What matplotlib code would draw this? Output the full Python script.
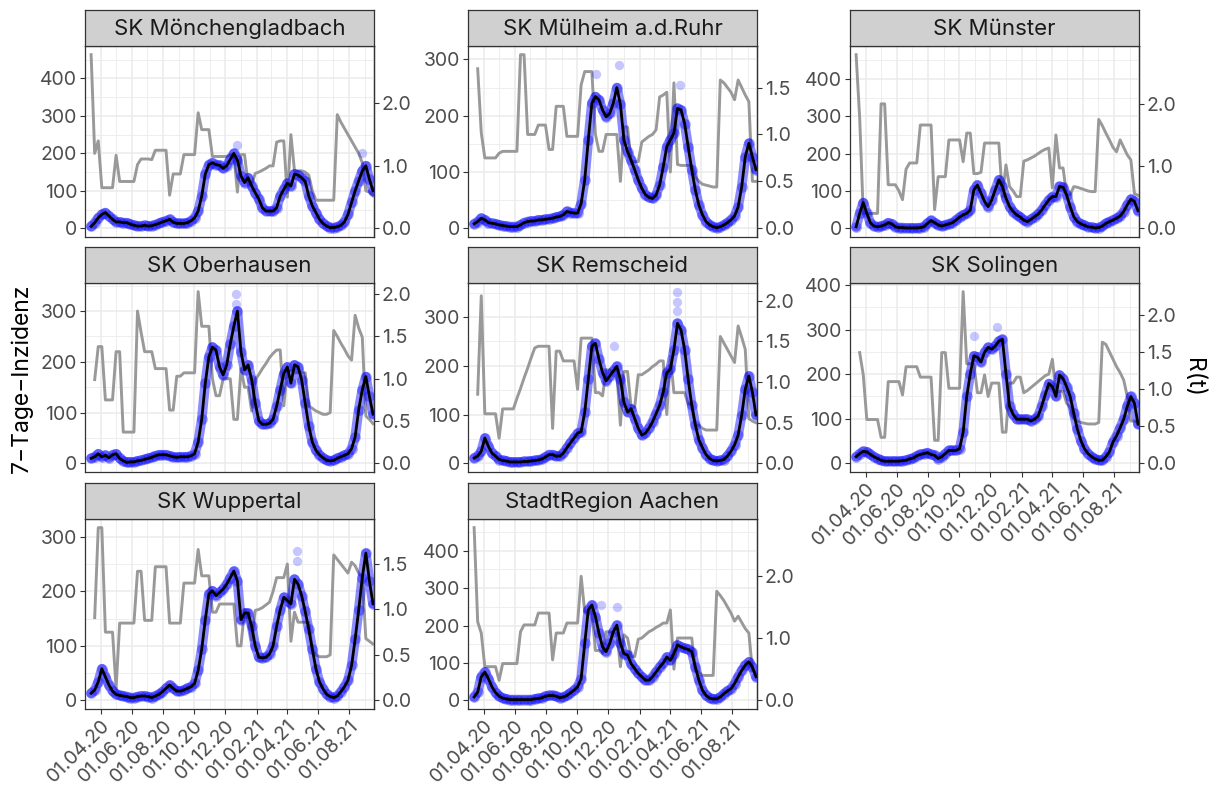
import numpy as np
import pandas as pd
import matplotlib
matplotlib.use("Agg")
import matplotlib.pyplot as plt
import matplotlib.dates as mdates
from matplotlib.ticker import MultipleLocator, FormatStrFormatter

plt.rcParams['font.family'] = ['Inter', 'DejaVu Sans']

# weekly grid of report dates
dates = pd.date_range('2020-03-13', periods=80, freq='7D')
nan = np.nan

# 7-Tage-Inzidenz (weekly readings) and R(t) per region
inc_mg = [5, 15, 28, 37, 42, 33, 24, 17, 17, 15,
          15, 11, 8, 6, 6, 8, 6, 7, 10, 13,
          17, 20, 24, 16, 13, 13, 13, 15, 20, 28,
          46, 86, 145, 170, 175, 170, 168, 160, 167, 184,
          200, 182, 140, 122, 135, 113, 95, 78, 55, 46,
          46, 46, 55, 86, 104, 120, 113, 145, 142, 135,
          125, 86, 60, 42, 24, 13, 6, 2, 2, 4,
          8, 17, 37, 69, 100, 127, 153, 167, 131, 100]
r_mg = [2.78, 1.2, 1.4, 0.65, 0.65, 0.65, 0.65, 1.17, 0.75, 0.75,
        0.75, 0.75, 0.75, 1.02, 1.11, 1.11, 1.11, 1.1, 1.25, 1.25,
        1.25, 1.25, 0.53, 0.87, 0.87, 0.87, 1.18, 1.18, 1.18, 1.18,
        1.85, 1.58, 1.58, 1.58, 1.15, 1.15, 1.15, 1.15, 1.15, 1.18,
        1.18, 0.58, 1.18, 1.18, 0.7, 0.7, 0.88, 0.9, 0.93, 0.96,
        1.0, 1.0, 1.38, 1.4, 1.4, 0.5, 1.5, 0.92, 0.92, 0.92,
        0.9, 0.85, 0.6, 0.45, 0.45, 0.45, 0.45, 0.45, 0.45, 1.82,
        1.7, 1.6, 1.5, 1.4, 1.3, 1.2, 1.05, 0.6, 0.58, 0.52]

inc_mh = [8, 12, 18, 15, 10, 9, 8, 6, 5, 4,
          3, 3, 3, 6, 10, 12, 13, 13, 15, 15,
          16, 17, 18, 20, 21, 24, 30, 28, 27, 27,
          44, 86, 157, 222, 234, 228, 210, 198, 204, 222,
          250, 220, 157, 136, 121, 104, 86, 71, 60, 55,
          53, 59, 77, 109, 145, 157, 169, 213, 210, 186,
          145, 104, 68, 41, 24, 12, 6, 3, 1, 3,
          6, 10, 15, 22, 38, 74, 127, 151, 127, 104]
r_mh = [nan, 1.7, 1.02, 0.75, 0.75, 0.75, 0.75, 0.8, 0.82, 0.82,
        0.82, 0.82, 0.82, 1.85, 1.85, 1.0, 1.0, 1.0, 1.1, 1.1,
        1.1, 0.84, 0.84, 1.3, 1.3, 1.3, 0.98, 0.98, 0.98, 0.98,
        1.53, 1.67, 1.67, 1.67, 1.0, 0.82, 0.82, 1.0, 1.0, 1.0,
        1.0, 0.5, 1.08, 1.08, 0.71, 0.71, 0.71, 0.92, 0.95, 0.98,
        1.0, 1.05, 1.4, 1.42, 1.45, 0.6, 1.55, 0.68, 0.67, 0.67,
        0.67, 0.67, 0.55, 0.5, 0.47, 0.46, 0.45, 0.44, 0.44, 1.58,
        1.55, 1.5, 1.45, 1.37, 1.58, 1.5, 1.42, 1.35, 0.5, 0.5]

inc_ms = [4, 40, 69, 40, 15, 6, 4, 6, 9, 15,
          12, 4, 2, 2, 1, 1, 1, 1, 2, 4,
          13, 21, 15, 9, 6, 9, 12, 15, 22, 30,
          36, 40, 49, 103, 116, 94, 72, 58, 76, 103,
          130, 112, 81, 58, 45, 36, 30, 22, 18, 24,
          31, 38, 49, 63, 76, 85, 85, 112, 110, 89,
          58, 31, 18, 12, 8, 4, 3, 1, 2, 6,
          13, 18, 22, 27, 33, 45, 63, 78, 72, 47]
r_ms = [2.79, 1.77, 0.24, 0.24, 0.24, 0.24, 0.24, 2.0, 2.0, 0.7,
        0.7, 0.7, 0.6, 0.46, 0.95, 1.05, 1.05, 1.05, 1.66, 1.66,
        1.66, 1.66, 0.3, 0.83, 0.83, 0.83, 1.42, 1.42, 1.42, 1.42,
        1.07, 1.53, 1.53, 0.88, 0.88, 0.9, 1.37, 1.37, 1.37, 1.37,
        1.37, 0.51, 1.02, 0.67, 0.6, 0.51, 0.51, 1.08, 1.1, 1.13,
        1.16, 1.2, 1.24, 1.27, 1.29, 0.65, 1.5, 0.97, 0.97, 0.54,
        0.54, 0.67, 0.66, 0.64, 0.62, 0.6, 0.59, 0.59, 1.75, 1.65,
        1.53, 1.42, 1.3, 1.23, 1.42, 1.3, 1.18, 1.1, 0.56, 0.53]

inc_ob = [10, 13, 19, 13, 16, 11, 17, 19, 10, 5,
          2, 3, 3, 5, 6, 8, 10, 12, 15, 17,
          17, 17, 15, 13, 12, 13, 13, 13, 15, 19,
          42, 87, 158, 210, 229, 223, 190, 174, 194, 235,
          270, 300, 220, 184, 194, 165, 119, 84, 77, 77,
          79, 87, 113, 145, 177, 190, 158, 194, 190, 165,
          119, 74, 42, 26, 17, 11, 6, 5, 6, 10,
          13, 16, 19, 29, 52, 106, 145, 171, 132, 97]
r_ob = [nan, 0.99, 1.38, 1.38, 0.75, 0.75, 0.75, 1.32, 1.32, 0.37,
        0.37, 0.37, 0.37, 1.8, 1.55, 1.32, 1.32, 1.32, 1.12, 1.12,
        1.12, 1.12, 0.63, 0.63, 1.03, 1.03, 1.07, 1.07, 1.07, 1.07,
        2.03, 1.62, 1.62, 1.62, 1.0, 0.8, 0.8, 1.0, 1.0, 1.0,
        0.52, 0.52, 1.12, 0.9, 0.9, 0.62, 0.99, 1.05, 1.12, 1.18,
        1.25, 1.3, 1.34, 1.34, 0.68, 1.1, 1.1, 1.07, 1.07, 1.07,
        1.07, 0.68, 0.65, 0.62, 0.6, 0.58, 0.58, 0.6, 1.57, 1.5,
        1.42, 1.35, 1.27, 1.22, 1.75, 1.6, 1.49, 0.56, 0.52, 0.47]

inc_rs = [11, 15, 25, 52, 35, 21, 15, 8, 6, 5,
          3, 3, 3, 3, 4, 4, 5, 6, 7, 9,
          13, 18, 18, 15, 15, 21, 32, 42, 52, 62,
          65, 105, 172, 240, 246, 213, 186, 169, 179, 189,
          199, 172, 125, 105, 112, 92, 72, 58, 62, 72,
          85, 102, 119, 146, 186, 193, 233, 287, 273, 233,
          172, 119, 79, 48, 32, 18, 10, 6, 5, 6,
          8, 15, 25, 38, 58, 99, 152, 179, 146, 99]
r_rs = [nan, 0.85, 2.06, 0.61, 0.61, 0.61, 0.61, 0.31, 0.67, 0.67,
        0.67, 0.67, 0.8, 0.92, 1.05, 1.17, 1.3, 1.42, 1.44, 1.44,
        1.44, 1.44, 0.43, 1.38, 1.38, 1.26, 1.26, 1.26, 1.26, 0.91,
        1.54, 1.54, 1.54, 1.54, 0.87, 0.87, 0.83, 1.15, 1.15, 1.13,
        1.13, 0.47, 1.13, 1.13, 0.69, 0.69, 1.09, 1.09, 1.12, 1.15,
        1.19, 1.22, 1.26, 1.26, 0.6, 1.32, 0.87, 0.87, 0.87, 0.87,
        0.73, 0.73, 0.47, 0.47, 0.43, 0.41, 0.41, 0.41, 0.41, 1.56,
        1.48, 1.4, 1.32, 1.24, 1.69, 1.55, 1.4, 0.55, 0.52, 0.5]

inc_so = [15, 22, 27, 26, 20, 15, 11, 7, 5, 5,
          5, 5, 5, 6, 7, 10, 12, 17, 20, 22,
          24, 20, 18, 11, 15, 22, 29, 29, 29, 33,
          70, 150, 201, 241, 238, 227, 249, 260, 256, 263,
          274, 278, 201, 128, 110, 99, 99, 99, 99, 95,
          99, 106, 128, 154, 179, 172, 150, 198, 190, 172,
          150, 113, 77, 51, 33, 22, 15, 10, 7, 7,
          15, 26, 48, 62, 80, 99, 128, 150, 135, 88]
r_so = [nan, 1.49, 1.19, 0.59, 0.59, 0.59, 0.59, 0.35, 0.35, 1.1,
        1.1, 1.1, 1.1, 0.92, 1.3, 1.3, 1.3, 1.3, 1.16, 1.16,
        1.16, 1.16, 0.31, 0.31, 1.49, 1.49, 1.01, 1.01, 1.01, 1.01,
        2.31, 1.34, 1.34, 1.34, 0.95, 0.95, 1.19, 0.9, 1.08, 1.08,
        1.08, 0.42, 0.42, 1.08, 1.08, 1.16, 1.16, 0.95, 0.98, 1.02,
        1.06, 1.1, 1.14, 1.18, 1.2, 1.4, 0.97, 0.97, 0.97, 0.81,
        0.75, 0.6, 0.57, 0.55, 0.54, 0.53, 0.53, 0.53, 0.55, 1.63,
        1.6, 1.5, 1.4, 1.3, 1.22, 1.12, 0.9, 0.57, 0.57, 0.55]

inc_wu = [13, 19, 34, 58, 43, 28, 17, 11, 9, 8,
          7, 5, 5, 7, 8, 8, 7, 5, 8, 11,
          16, 22, 28, 22, 17, 17, 19, 22, 25, 31,
          55, 94, 148, 195, 201, 192, 198, 204, 213, 225,
          237, 219, 148, 160, 160, 136, 100, 79, 78, 79,
          85, 100, 136, 166, 189, 183, 177, 222, 213, 192,
          163, 130, 94, 58, 34, 21, 11, 7, 5, 8,
          16, 25, 37, 64, 112, 166, 225, 270, 219, 177]
r_wu = [nan, 0.91, 1.9, 1.9, 0.75, 0.75, 0.75, 0.13, 0.85, 0.85,
        0.85, 0.85, 0.85, 1.42, 1.42, 0.88, 0.88, 0.88, 1.47, 1.47,
        1.47, 1.47, 0.85, 0.85, 0.85, 0.85, 1.29, 1.29, 1.29, 1.29,
        1.66, 1.37, 1.37, 1.37, 0.97, 0.97, 1.06, 1.06, 1.06, 1.06,
        1.06, 0.6, 0.6, 1.0, 0.88, 0.66, 0.99, 1.0, 1.02, 1.05,
        1.08, 1.2, 1.35, 1.35, 1.35, 1.5, 0.65, 0.97, 0.86, 0.86,
        0.86, 0.86, 0.55, 0.5, 0.48, 0.48, 0.48, 0.5, 1.6, 1.55,
        1.5, 1.45, 1.4, 1.52, 1.48, 1.4, 1.35, 0.68, 0.65, 0.62]

inc_ac = [9, 22, 63, 76, 58, 36, 21, 11, 6, 4,
          2, 2, 2, 2, 2, 2, 2, 4, 5, 7,
          11, 13, 13, 11, 7, 9, 13, 20, 27, 36,
          58, 152, 242, 255, 224, 179, 143, 130, 152, 183,
          201, 152, 125, 121, 98, 85, 72, 63, 54, 54,
          63, 76, 89, 100, 116, 107, 125, 148, 143, 139,
          136, 130, 89, 54, 27, 13, 6, 4, 4, 9,
          18, 25, 31, 45, 63, 80, 94, 103, 89, 63]
r_ac = [2.77, 1.26, 1.08, 0.54, 0.54, 0.54, 0.54, 0.32, 0.59, 0.59,
        0.59, 0.59, 0.59, 1.1, 1.21, 1.21, 1.21, 1.21, 1.4, 1.4,
        1.4, 1.4, 0.65, 1.08, 1.08, 1.08, 1.24, 1.24, 1.24, 1.24,
        1.99, 1.42, 1.42, 1.42, 0.8, 0.8, 0.75, 1.1, 1.1, 1.08,
        1.08, 0.54, 1.05, 1.0, 0.7, 0.7, 0.98, 1.0, 1.05, 1.1,
        1.13, 1.17, 1.2, 1.24, 1.24, 1.45, 0.5, 1.0, 1.0, 1.0,
        1.0, 1.0, 0.48, 0.45, 0.4, 0.4, 0.4, 0.4, 1.75, 1.68,
        1.6, 1.5, 1.4, 1.27, 1.35, 1.25, 1.15, 1.08, 0.48, 0.45]

# single daily values sticking out above the bulk
ext_mg_d = ['2020-12-24', '2021-08-26']
ext_mg_v = [222, 202]
ext_mh_d = ['2020-12-23', '2020-11-08', '2021-04-21']
ext_mh_v = [290, 274, 254]
ext_ms_d = []
ext_ms_v = []
ext_ob_d = ['2020-12-23', '2020-12-23']
ext_ob_v = [334, 313]
ext_rs_d = ['2021-04-15', '2021-04-15', '2021-04-16', '2020-12-12']
ext_rs_v = [352, 330, 313, 241]
ext_so_d = ['2020-12-14', '2020-10-31']
ext_so_v = [305, 285]
ext_wu_d = ['2021-04-21', '2021-04-20']
ext_wu_v = [273, 255]
ext_ac_d = ['2020-12-19', '2020-11-16']
ext_ac_v = [250, 255]

names = ['SK Mönchengladbach', 'SK Mülheim a.d.Ruhr', 'SK Münster',
         'SK Oberhausen', 'SK Remscheid', 'SK Solingen',
         'SK Wuppertal', 'StadtRegion Aachen']
incs = [inc_mg, inc_mh, inc_ms, inc_ob, inc_rs, inc_so, inc_wu, inc_ac]
rts = [r_mg, r_mh, r_ms, r_ob, r_rs, r_so, r_wu, r_ac]
ext_d = [ext_mg_d, ext_mh_d, ext_ms_d, ext_ob_d, ext_rs_d, ext_so_d, ext_wu_d, ext_ac_d]
ext_v = [ext_mg_v, ext_mh_v, ext_ms_v, ext_ob_v, ext_rs_v, ext_so_v, ext_wu_v, ext_ac_v]

K = 166.67  # R(t) secondary axis scale

W, H = 1209, 789
fig = plt.figure(figsize=(W / 100, H / 100), dpi=100)


def rect(l, t, w, h):
    return [l / W, 1 - (t + h) / H, w / W, h / H]


col_left = [85, 468, 850]
row_top = [46, 283, 519]
row_h = [191, 189, 190]
pw = 289
strip_h = 36
show_x = {'SK Solingen', 'SK Wuppertal', 'StadtRegion Aachen'}

txt_col = '#4D4D4D'
edge = '#333333'
tick_fs = 14

for k, name in enumerate(names):
    r, c = divmod(k, 3)
    ax = fig.add_axes(rect(col_left[c], row_top[r], pw, row_h[r]))
    sax = fig.add_axes(rect(col_left[c], row_top[r] - strip_h, pw, strip_h))

    inc = np.array(incs[k], dtype=float)
    rt = np.array(rts[k], dtype=float)
    ed = pd.to_datetime(ext_d[k])
    ev = np.array(ext_v[k], dtype=float)

    ax.plot(dates, rt * K, color='#999999', lw=2.1, zorder=2)
    ax.plot(dates, inc, color='#0000FF', lw=7, alpha=0.45, solid_capstyle='round', zorder=3)
    ax.scatter(dates, inc, s=60, color='#0000FF', alpha=0.33, lw=0, zorder=3)
    if len(ev):
        ax.scatter(ed, ev, s=45, color='#0000FF', alpha=0.22, lw=0, zorder=3)
    ax.plot(dates, inc, color='black', lw=2.0, zorder=4)

    top = max(np.nanmax(inc), np.nanmax(rt) * K, ev.max() if len(ev) else 0)
    ax.set_ylim(-0.05 * top, 1.05 * top)
    ax.set_xlim(pd.Timestamp('2020-03-01'), pd.Timestamp('2021-09-19'))

    ax.yaxis.set_major_locator(MultipleLocator(100))
    ax.yaxis.set_minor_locator(MultipleLocator(50))
    ax.xaxis.set_major_locator(mdates.MonthLocator(bymonth=[2, 4, 6, 8, 10, 12]))
    ax.xaxis.set_minor_locator(mdates.MonthLocator(bymonth=[1, 3, 5, 7, 9, 11]))
    ax.xaxis.set_major_formatter(mdates.DateFormatter('%d.%m.%y'))

    ax.grid(which='major', color='#EBEBEB', lw=1.1)
    ax.grid(which='minor', color='#EBEBEB', lw=0.6)
    ax.set_axisbelow(True)
    for s in ax.spines.values():
        s.set_color(edge)
        s.set_linewidth(0.9)

    ax.tick_params(which='major', axis='y', length=3.5, width=0.8, color=edge,
                   labelcolor=txt_col, labelsize=tick_fs, pad=2)
    ax.tick_params(which='minor', length=0)
    if name in show_x:
        ax.tick_params(which='major', axis='x', length=3.5, width=0.8, color=edge,
                       labelcolor=txt_col, labelsize=tick_fs, pad=2)
        for lab in ax.get_xticklabels():
            lab.set_rotation(45)
            lab.set_ha('right')
            lab.set_va('top')
            lab.set_rotation_mode('anchor')
    else:
        ax.tick_params(axis='x', length=0, labelbottom=False)

    sec = ax.secondary_yaxis('right', functions=(lambda y: y / K, lambda v: v * K))
    rmax = 1.05 * top / K
    step = 1.0 if rmax > 2.6 else 0.5
    sec.set_yticks(np.arange(0, rmax, step))
    sec.yaxis.set_major_formatter(FormatStrFormatter('%.1f'))
    sec.tick_params(axis='y', which='major', length=3.5, width=0.8, color=edge,
                    labelcolor=txt_col, labelsize=tick_fs, pad=2)
    sec.tick_params(which='minor', length=0)
    sec.spines['right'].set_color(edge)
    sec.spines['right'].set_linewidth(0.9)

    sax.set_facecolor('#D0D0D0')
    sax.set_xticks([])
    sax.set_yticks([])
    for s in sax.spines.values():
        s.set_color(edge)
        s.set_linewidth(0.9)
    sax.text(0.5, 0.47, name, ha='center', va='center', fontsize=16,
             color='#1A1A1A', transform=sax.transAxes)

fig.text(22 / W, 1 - 378 / H, '7\u2212Tage\u2212Inzidenz', rotation=90,
         ha='center', va='center', fontsize=16.5, color='black')
fig.text(1193 / W, 1 - 378 / H, 'R(t)', rotation=270,
         ha='center', va='center', fontsize=16.5, color='black')

fig.savefig('out.png', dpi=100)
